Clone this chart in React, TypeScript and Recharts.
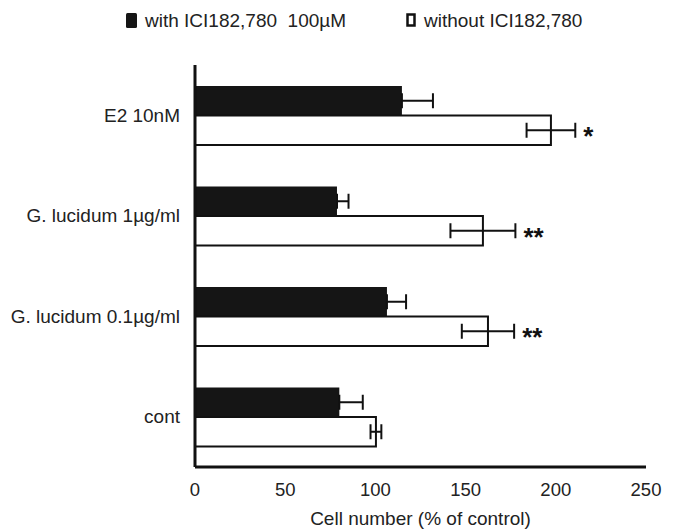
import React from 'react';
import { BarChart, Bar, XAxis, YAxis, ErrorBar, Legend, LabelList, Label } from 'recharts';

const categories = ['E2 10nM', 'G. lucidum 1µg/ml', 'G. lucidum 0.1µg/ml', 'cont'];
const withICI = [114.7, 78.7, 106.4, 80];
const withICIErr = [17.2, 6.4, 10.6, 13];
const withoutICI = [197.3, 159.6, 162.4, 100.3];
const withoutICIErr = [13.5, 18, 14.5, 3];
const significance = ['*', '**', '**', ''];
const xTicks = [0, 50, 100, 150, 200, 250];
const seriesNames = ['with ICI182,780\u00a0 100µM', 'without ICI182,780'];
const xTitle = 'Cell number (% of control)';

const rows = categories.map((name, i) => ({
  name,
  withICI: withICI[i],
  withErr: [0, withICIErr[i]],
  without: withoutICI[i],
  withoutErr: withoutICIErr[i],
  sig: significance[i],
}));

const FONT = '"Liberation Sans", Arial, Helvetica, sans-serif';
const INK = '#111';
const TEXT = '#222';

const renderLegend = () => (
  <div style={{ width: 676, height: 65, position: 'relative' }}>
    <svg width={676} height={40} style={{ position: 'absolute', left: 0, top: 0 }}>
      <rect x={126} y={13} width={11} height={15} rx={1.5} fill="#151515" />
      <text x={145} y={27} fontSize={19} fill={TEXT} fontFamily={FONT}>{seriesNames[0]}</text>
      <rect x={407.5} y={14.5} width={7} height={11} fill="#fff" stroke={INK} strokeWidth={2.5} />
      <text x={424} y={27} fontSize={19} fill={TEXT} fontFamily={FONT}>{seriesNames[1]}</text>
    </svg>
  </div>
);

const renderSig = (props: any) => {
  const x = Number(props.x);
  const y = Number(props.y);
  const width = Number(props.width);
  const height = Number(props.height);
  const value = Number(props.value);
  const row = rows.find((r) => r.without === value);
  if (!row || !row.sig || !value) return null;
  const pxPerUnit = width / value;
  const tx = x + width + row.withoutErr * pxPerUnit + 8;
  const cy = y + height / 2;
  const fs = 26;
  return (
    <text x={tx} y={cy + 0.58 * fs} fontSize={fs} fontWeight="bold" fill={INK} fontFamily={FONT}>
      {row.sig}
    </text>
  );
};

export default function App() {
  return (
    <div style={{ position: 'absolute', left: 0, top: 0, width: 676, height: 531, background: '#fff' }}>
      <BarChart
        width={676}
        height={531}
        data={rows}
        layout="vertical"
        margin={{ top: 0, right: 30, bottom: 0, left: 0 }}
        barGap={0}
        barSize={29.5}
        style={{ fontFamily: FONT }}
      >
        <Legend verticalAlign="top" align="left" height={65} content={renderLegend} wrapperStyle={{ left: 0, top: 0, width: 676, height: 65 }} />
        <XAxis
          type="number"
          domain={[0, 250]}
          ticks={xTicks}
          interval={0}
          height={64}
          tickLine={false}
          tickSize={0}
          tickMargin={16}
          axisLine={{ stroke: INK, strokeWidth: 3 }}
          tick={{ fill: TEXT, fontSize: 18.5, fontFamily: FONT }}
        >
          <Label value={xTitle} position="insideBottom" offset={6} style={{ fill: TEXT, fontSize: 19, fontFamily: FONT }} />
        </XAxis>
        <XAxis
          xAxisId="inner"
          type="number"
          domain={[0, 250]}
          ticks={xTicks}
          interval={0}
          orientation="bottom"
          mirror
          height={0}
          tick={false}
          axisLine={false}
          tickSize={4}
          tickLine={{ stroke: INK, strokeWidth: 2 }}
        />
        <YAxis
          type="category"
          dataKey="name"
          width={195}
          tickLine={false}
          tickSize={0}
          tickMargin={15}
          axisLine={{ stroke: INK, strokeWidth: 3 }}
          tick={{ fill: TEXT, fontSize: 19, fontFamily: FONT }}
        />
        <YAxis
          yAxisId="bounds"
          type="number"
          domain={[0, 4]}
          ticks={[1, 2, 3, 4]}
          interval={0}
          mirror
          width={0}
          tick={false}
          axisLine={false}
          tickSize={3}
          tickLine={{ stroke: INK, strokeWidth: 2 }}
        />
        <Bar dataKey="withICI" fill="#151515" isAnimationActive={false}>
          <ErrorBar dataKey="withErr" direction="x" width={7.5} stroke={INK} strokeWidth={2} />
        </Bar>
        <Bar dataKey="without" fill="#fff" stroke={INK} strokeWidth={2} isAnimationActive={false}>
          <ErrorBar dataKey="withoutErr" direction="x" width={7.5} stroke={INK} strokeWidth={2} />
          <LabelList dataKey="without" content={renderSig} />
        </Bar>
      </BarChart>
    </div>
  );
}
